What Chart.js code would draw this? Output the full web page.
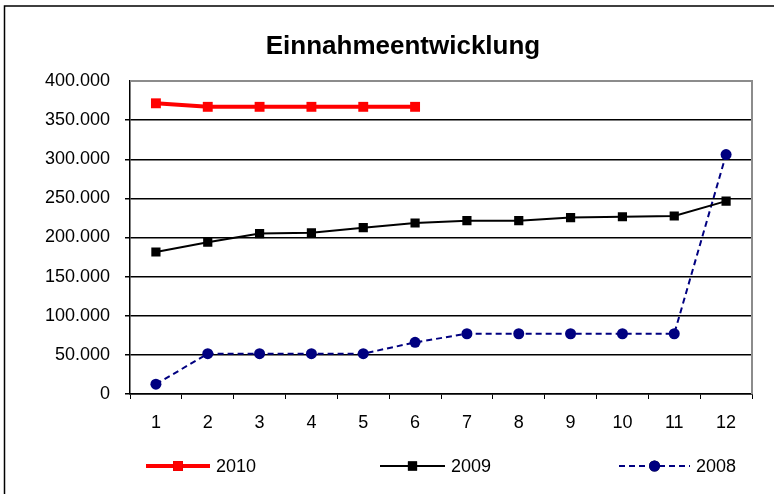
<!DOCTYPE html>
<html lang="de">
  <head>
    <meta charset="UTF-8" />
    <title>Einnahmeentwicklung</title>
    <script src="https://cdn.jsdelivr.net/npm/chart.js"></script>
    <style>
      html, body { margin: 0; padding: 0; background: #fff; }
      #wrap { width: 774px; height: 494px; }
    </style>
  </head>
  <body>
    <div id="wrap"><canvas id="einnahmen"></canvas></div>
    <script>
      const chartTitle = "Einnahmeentwicklung";
      const months = ["1", "2", "3", "4", "5", "6", "7", "8", "9", "10", "11", "12"];
      const values2010 = [371500, 367000, 367000, 367000, 367000, 367000];
      const values2009 = [181500, 194000, 205000, 206000, 212500, 218500, 221500, 221500, 225500, 226500, 227500, 246500];
      const values2008 = [12500, 51500, 51500, 51500, 51500, 66000, 77000, 77000, 77000, 77000, 77000, 306000];

      const fontFamily = "'Liberation Sans', Arial, sans-serif";

      const formatDe = (v) => String(v).replace(/\B(?=(\d{3})+(?!\d))/g, ".");

      // Excel-like frame: outer box, title, gray top/right edge of the plot area, spread-out legend
      const excelFrame = {
        id: "excelFrame",
        beforeDraw(chart) {
          const ctx = chart.ctx;
          ctx.save();
          ctx.strokeStyle = "#000";
          ctx.lineWidth = 1.5;
          ctx.strokeRect(4.5, 6, 900, 700);
          ctx.fillStyle = "#000";
          ctx.font = "bold 26px " + fontFamily;
          ctx.textAlign = "center";
          ctx.textBaseline = "middle";
          ctx.fillText(chartTitle, 403, 47);
          ctx.restore();
        },
        afterDraw(chart) {
          const ctx = chart.ctx;
          const a = chart.chartArea;
          ctx.save();
          ctx.strokeStyle = "#8c8c8c";
          ctx.lineWidth = 2;
          ctx.beginPath();
          ctx.moveTo(a.left, a.top);
          ctx.lineTo(a.right, a.top);
          ctx.lineTo(a.right, a.bottom);
          ctx.stroke();

          const y = 466;
          const items = [
            { ds: chart.data.datasets[0], x0: 146, x1: 210 },
            { ds: chart.data.datasets[1], x0: 380, x1: 445 },
            { ds: chart.data.datasets[2], x0: 619, x1: 690 },
          ];
          items.forEach(({ ds, x0, x1 }) => {
            ctx.strokeStyle = ds.borderColor;
            ctx.lineWidth = ds.borderWidth;
            ctx.setLineDash(ds.borderDash || []);
            ctx.beginPath();
            ctx.moveTo(x0, y);
            ctx.lineTo(x1, y);
            ctx.stroke();
            ctx.setLineDash([]);
            Chart.helpers.drawPoint(ctx, {
              pointStyle: ds.pointStyle,
              radius: ds.pointRadius,
              rotation: 0,
              borderWidth: 0,
            }, (x0 + x1) / 2, y);
            ctx.fillStyle = ds.pointBackgroundColor;
            ctx.fill();
            ctx.fillStyle = "#000";
            ctx.font = "18px " + fontFamily;
            ctx.textBaseline = "middle";
            ctx.textAlign = "left";
            ctx.fillText(ds.label, x1 + 6, y + 1);
          });
          ctx.restore();
        },
      };

      new Chart(document.getElementById("einnahmen"), {
        type: "line",
        data: {
          labels: months,
          datasets: [
            {
              label: "2010",
              data: values2010,
              borderColor: "#ff0000",
              backgroundColor: "#ff0000",
              pointBackgroundColor: "#ff0000",
              pointBorderColor: "#ff0000",
              borderWidth: 4,
              pointStyle: "rect",
              pointRadius: 7,
              pointBorderWidth: 0,
              tension: 0,
            },
            {
              label: "2009",
              data: values2009,
              borderColor: "#000000",
              backgroundColor: "#000000",
              pointBackgroundColor: "#000000",
              pointBorderColor: "#000000",
              borderWidth: 2,
              pointStyle: "rect",
              pointRadius: 6.5,
              pointBorderWidth: 0,
              tension: 0,
            },
            {
              label: "2008",
              data: values2008,
              borderColor: "#000080",
              backgroundColor: "#000080",
              pointBackgroundColor: "#000080",
              pointBorderColor: "#000080",
              borderWidth: 2,
              borderDash: [6, 4],
              pointStyle: "circle",
              pointRadius: 5.5,
              pointBorderWidth: 0,
              tension: 0,
            },
          ],
        },
        options: {
          responsive: true,
          maintainAspectRatio: false,
          animation: false,
          layout: { padding: { left: 0, right: 22, top: 81, bottom: 0 } },
          plugins: {
            legend: { display: false },
            tooltip: { enabled: false },
            title: { display: false },
          },
          scales: {
            x: {
              offset: true,
              afterFit(scale) { scale.height = 100; },
              grid: {
                offset: true,
                drawOnChartArea: false,
                drawTicks: true,
                tickLength: 5,
                color: "#000",
              },
              border: { color: "#000", width: 1.5 },
              ticks: {
                color: "#000",
                padding: 13,
                maxRotation: 0,
                font: { family: fontFamily, size: 18 },
              },
            },
            y: {
              min: 0,
              max: 400000,
              afterFit(scale) { scale.width = 130; },
              grid: {
                color: (c) => (c.tick && c.tick.value === 400000 ? "rgba(0,0,0,0)" : "#000"),
                lineWidth: 1.5,
                tickLength: 5,
              },
              border: { color: "#000", width: 1.5 },
              ticks: {
                stepSize: 50000,
                color: "#000",
                padding: 15,
                font: { family: fontFamily, size: 18 },
                callback: (v) => formatDe(v),
              },
            },
          },
        },
        plugins: [excelFrame],
      });
    </script>
  </body>
</html>
